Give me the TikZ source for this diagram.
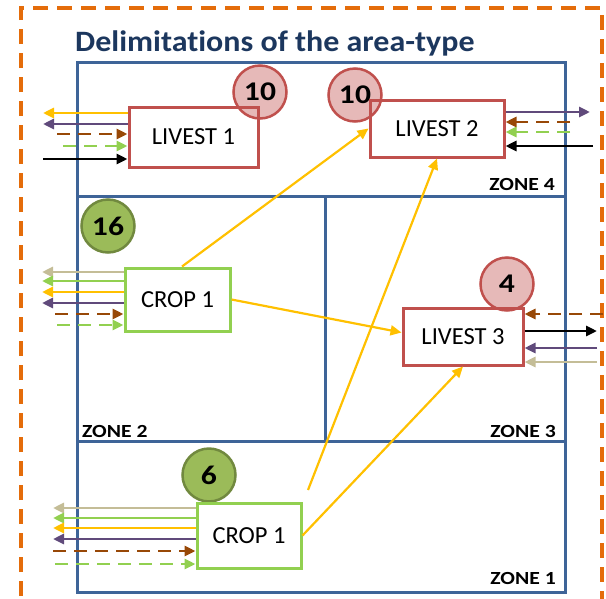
\documentclass[tikz,border=0pt]{standalone}
\usepackage{fontspec}
\setmainfont{Carlito}
\newfontfamily\widefont[FakeStretch=1.17]{Carlito}
\newfontfamily\titlefont[FakeStretch=1.08, Ligatures=NoCommon]{Carlito}
\usetikzlibrary{arrows.meta,calc}
\definecolor{orangeb}{HTML}{E46C0A}
\definecolor{zoneblue}{HTML}{3E6498}
\definecolor{titleblue}{HTML}{1C375E}
\definecolor{redc}{HTML}{C0504D}
\definecolor{pinkc}{HTML}{E6B9B8}
\definecolor{greenc}{HTML}{92D050}
\definecolor{olivec}{HTML}{9BBB59}
\definecolor{olivedark}{HTML}{71893F}
\definecolor{yelc}{HTML}{FFC000}
\definecolor{purc}{HTML}{604A7B}
\definecolor{brownc}{HTML}{984807}
\definecolor{tanc}{HTML}{C4BD97}
\tikzset{
  zoneline/.style={draw=zoneblue, line width=3pt},
  zonelabel/.style={font=\widefont\fontsize{18.5}{22}\selectfont\bfseries, inner sep=0pt},
  livebox/.style={rectangle, draw=redc, line width=3pt, fill=none, font=\fontsize{24.5}{26}\selectfont, inner sep=0pt},
  cropbox/.style={rectangle, draw=greenc, line width=3pt, fill=none, font=\fontsize{24.5}{26}\selectfont, inner sep=0pt},
  redbadge/.style={circle, draw=redc, fill=pinkc, line width=2.5pt, minimum size=53pt, inner sep=0pt, font=\widefont\fontsize{27}{28}\selectfont\bfseries},
  greenbadge/.style={circle, draw=olivedark, fill=olivec, line width=2.5pt, minimum size=53pt, inner sep=0pt, font=\widefont\fontsize{27}{28}\selectfont\bfseries},
  flow/.style={line width=2.8pt, -{Triangle[length=11pt,width=10pt]}},
  dflow/.style={flow, dash pattern=on 13pt off 8pt},
  link/.style={draw=yelc, line width=2.2pt, -{Triangle[length=11pt,width=10pt]}}
}
\begin{document}
\begin{tikzpicture}[x=1pt,y=-1pt]
\useasboundingbox (0,0) rectangle (606,598);
% orange dashed boundary
\draw[orangeb, line width=4.5pt, dash pattern=on 15pt off 9pt] (21,620) -- (21,8) -- (602,8) -- (602,620);
% title
\node[anchor=base west, inner sep=0pt, text=titleblue, font=\titlefont\fontsize{29.6}{34}\selectfont\bfseries] (title) at (75,51) {Delimitations of the area-type};
% zones
\draw[zoneline] (77,62) rectangle (565,592);
\draw[zoneline] (77,196) -- (565,196);
\draw[zoneline] (77,441) -- (565,441);
\draw[zoneline] (325,196) -- (325,441);
\node[zonelabel, anchor=base east] (z4) at (555,190) {ZONE 4};
\node[zonelabel, anchor=base west] (z2) at (82,437) {ZONE 2};
\node[zonelabel, anchor=base east] (z3) at (556,437) {ZONE 3};
\node[zonelabel, anchor=base east] (z1) at (556,584) {ZONE 1};
% badges
\node[redbadge] (b1) at (260,92) {10};
\node[redbadge] (b2) at (355,95) {10};
\node[redbadge] (b3) at (507,284) {4};
\node[greenbadge] (b4) at (108,226) {16};
\node[greenbadge] (b5) at (209,475) {6};
% boxes
\node[livebox, minimum width=129pt, minimum height=60pt] (liv1) at (193.5,137) {LIVEST 1};
\node[livebox, minimum width=134pt, minimum height=57pt] (liv2) at (437,128.5) {LIVEST 2};
\node[livebox, minimum width=120pt, minimum height=57pt] (liv3) at (463,336.5) {LIVEST 3};
\node[cropbox, minimum width=105pt, minimum height=63pt] (crop2) at (177.5,299.5) {CROP 1};
\node[cropbox, minimum width=104pt, minimum height=65pt] (crop1) at (249,535.5) {CROP 1};
% yellow links
\coordinate (cfree) at (308,490);
\draw[link] ($(crop2.north)+(4.5,0)$) -- (liv2.west);
\draw[link] (crop2.east) -- ($(liv3.west)+(0,-4)$);
\draw[link] (cfree) -- (liv2.south);
\draw[link] (crop1.east) -- (liv3.south);
% LIVEST 1 side flows
\coordinate (l1a) at (43,113);
\coordinate (l1b) at (43,124);
\coordinate (l1c) at (57,134);
\coordinate (l1d) at (63,146);
\coordinate (l1e) at (43,159);
\draw[flow, yelc] (l1a -| liv1.west) -- (l1a);
\draw[flow, purc] (l1b -| liv1.west) -- (l1b);
\draw[dflow, brownc] (l1c) -- (l1c -| liv1.west);
\draw[dflow, greenc] (l1d) -- (l1d -| liv1.west);
\draw[flow, black] (l1e) -- (l1e -| liv1.west);
% LIVEST 2 side flows
\coordinate (l2a) at (590,112);
\coordinate (l2b) at (570,122);
\coordinate (l2c) at (570,132);
\coordinate (l2d) at (593,146);
\draw[flow, purc] (l2a -| liv2.east) -- (l2a);
\draw[dflow, brownc] (l2b) -- (l2b -| liv2.east);
\draw[dflow, greenc] (l2c) -- (l2c -| liv2.east);
\draw[flow, black] (l2d) -- (l2d -| liv2.east);
% CROP 1 (zone 2) side flows
\coordinate (c2a) at (42,272);
\coordinate (c2b) at (42,281);
\coordinate (c2c) at (42,292);
\coordinate (c2d) at (42,303);
\coordinate (c2e) at (55,314);
\coordinate (c2f) at (57,325);
\draw[flow, tanc] (c2a -| crop2.west) -- (c2a);
\draw[flow, greenc] (c2b -| crop2.west) -- (c2b);
\draw[flow, yelc] (c2c -| crop2.west) -- (c2c);
\draw[flow, purc] (c2d -| crop2.west) -- (c2d);
\draw[dflow, brownc] (c2e) -- (c2e -| crop2.west);
\draw[dflow, greenc] (c2f) -- (c2f -| crop2.west);
% LIVEST 3 side flows
\coordinate (l3a) at (603,314);
\coordinate (l3b) at (597,331);
\coordinate (l3c) at (597,348);
\coordinate (l3d) at (597,362);
\draw[dflow, brownc] (l3a) -- (l3a -| liv3.east);
\draw[flow, black] (l3b -| liv3.east) -- (l3b);
\draw[flow, purc] (l3c) -- (l3c -| liv3.east);
\draw[flow, tanc] (l3d) -- (l3d -| liv3.east);
% CROP 1 (zone 1) side flows
\coordinate (c1a) at (53,508);
\coordinate (c1b) at (53,518);
\coordinate (c1c) at (53,528);
\coordinate (c1d) at (53,539);
\coordinate (c1e) at (53,551);
\coordinate (c1f) at (55,564);
\draw[flow, tanc] (c1a -| crop1.west) -- (c1a);
\draw[flow, greenc] (c1b -| crop1.west) -- (c1b);
\draw[flow, yelc] (c1c -| crop1.west) -- (c1c);
\draw[flow, purc] (c1d -| crop1.west) -- (c1d);
\draw[dflow, brownc] (c1e) -- (c1e -| crop1.west);
\draw[dflow, greenc] (c1f) -- (c1f -| crop1.west);
\end{tikzpicture}
\end{document}
